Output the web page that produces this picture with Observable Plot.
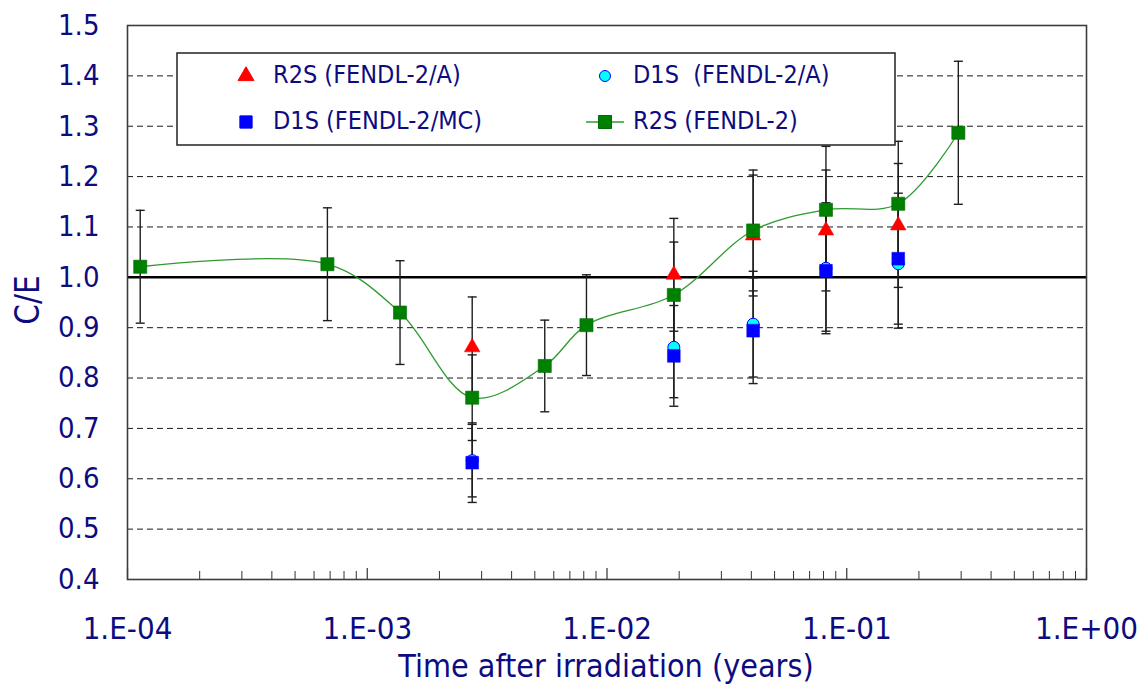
<!DOCTYPE html>
<html><head><meta charset="utf-8">
<script src="https://cdn.jsdelivr.net/npm/d3@7"></script>
<script src="https://cdn.jsdelivr.net/npm/@observablehq/plot@0.6"></script>
<style>
body{margin:0;background:#fff;}
#chart{position:relative;width:1142px;height:690px;}
</style></head><body><div id="chart"></div>
<script>
// ---------------- data ----------------
const r2sFendl2Time = [1.13e-4, 6.82e-4, 1.37e-3, 2.74e-3, 5.50e-3, 8.21e-3, 1.90e-2, 4.07e-2, 8.19e-2, 0.164, 0.292];
const r2sFendl2CE   = [1.021, 1.026, 0.930, 0.761, 0.824, 0.905, 0.965, 1.093, 1.134, 1.146, 1.287];
const r2sFendl2Err  = [0.112, 0.112, 0.103, 0.085, 0.091, 0.100, 0.105, 0.120, 0.126, 0.124, 0.142];

const otherTime = [2.74e-3, 1.90e-2, 4.07e-2, 8.19e-2, 0.164];
const r2sACE    = [0.861, 1.005, 1.083, 1.093, 1.103];
const r2sAErr   = [0.100, 0.112, 0.120, 0.120, 0.123];
const d1sMCCE   = [0.632, 0.844, 0.894, 1.013, 1.037];
const d1sMCErr  = [0.079, 0.100, 0.105, 0.120, 0.130];
const d1sACE    = [0.636, 0.861, 0.907, 1.018, 1.027];
const d1sAErr   = [0.072, 0.100, 0.105, 0.130, 0.128];

const seriesNames = ["R2S (FENDL-2/A)", "D1S  (FENDL-2/A)", "D1S (FENDL-2/MC)", "R2S (FENDL-2)"];

const xTicks = [1e-4, 1e-3, 1e-2, 1e-1, 1];
const xTickLabels = ["1.E-04", "1.E-03", "1.E-02", "1.E-01", "1.E+00"];
const yTicks = [0.4, 0.5, 0.6, 0.7, 0.8, 0.9, 1.0, 1.1, 1.2, 1.3, 1.4, 1.5];
const yTickLabels = ["0.4","0.5","0.6","0.7","0.8","0.9","1.0","1.1","1.2","1.3","1.4","1.5"];
const gridValues = [0.5, 0.6, 0.7, 0.8, 0.9, 1.1, 1.2, 1.3, 1.4];
const referenceLine = [1.0];
const xTitle = "Time after irradiation (years)";
const yTitle = "C/E";

// ---------------- build ----------------
const FONT = '"DejaVu Sans Condensed", "DejaVu Sans", sans-serif';
const NAVY = "#0c0c80";
const mk = (t, v, e) => t.map((x, i) => ({x, y: v[i], lo: v[i] - e[i], hi: v[i] + e[i]}));
const green = mk(r2sFendl2Time, r2sFendl2CE, r2sFendl2Err);
const red = mk(otherTime, r2sACE, r2sAErr);
const blue = mk(otherTime, d1sMCCE, d1sMCErr);
const cyan = mk(otherTime, d1sACE, d1sAErr);
const allErr = [...cyan, ...blue, ...red, ...green];
const xTickRows = xTicks.map((x, i) => ({x, label: xTickLabels[i]}));

const minorTicks = [];
for (let d = -4; d < 0; d++) for (let m = 2; m <= 9; m++) minorTicks.push(m * Math.pow(10, d));

const capSymbol = {draw(ctx, size) { const r = Math.sqrt(size / Math.PI); ctx.moveTo(-r, 0); ctx.lineTo(r, 0); }};
const blank = () => "";

const W = 1142, H = 690;
const plot = Plot.plot({
  width: W, height: H,
  marginLeft: 127, marginRight: 56, marginTop: 25, marginBottom: 111,
  style: {fontFamily: FONT, fontSize: "29px", color: NAVY, background: "#fff"},
  x: {type: "log", domain: [1e-4, 1], label: null},
  y: {domain: [0.4, 1.5], label: null},
  marks: [
    Plot.gridY(gridValues, {stroke: "#1a1a1a", strokeOpacity: 1, strokeDasharray: "6,4", strokeWidth: 1}),
    Plot.ruleY(referenceLine, {stroke: "#000", strokeWidth: 2.6}),
    Plot.axisX(minorTicks, {tickSize: -8, tickFormat: blank, stroke: "#333", strokeWidth: 1, label: null}),
    Plot.axisX(xTicks, {tickSize: -11, tickFormat: blank, stroke: "#333", strokeWidth: 1.2, label: null}),
    Plot.text(xTickRows, {x: "x", text: "label", frameAnchor: "bottom", dy: 50, lineAnchor: "middle",
      fill: NAVY, fontSize: 31}),
    Plot.axisY(yTicks, {tickSize: 0, tickPadding: 28, tickFormat: (d, i) => yTickLabels[i], fill: NAVY, label: null}),
    Plot.frame({stroke: "#3c3c3c", strokeWidth: 1.6}),
    Plot.ruleX(allErr, {x: "x", y1: "lo", y2: "hi", stroke: "#1e1e1e", strokeWidth: 1.4}),
    Plot.dot(allErr, {x: "x", y: "lo", symbol: capSymbol, r: 4.5, stroke: "#1e1e1e", strokeWidth: 1.4, fill: "none"}),
    Plot.dot(allErr, {x: "x", y: "hi", symbol: capSymbol, r: 4.5, stroke: "#1e1e1e", strokeWidth: 1.4, fill: "none"}),
    Plot.dot(cyan, {x: "x", y: "y", r: 6, fill: "#00ffff", stroke: "#0000ff", strokeWidth: 1}),
    Plot.dot(blue, {x: "x", y: "y", symbol: "square", r: 7.2, fill: "#0000ff", stroke: "#0000ff", strokeWidth: 0.5}),
    Plot.dot(red, {x: "x", y: "y", symbol: "triangle", r: 5.8, fill: "#ff0000", stroke: "#ff0000", strokeWidth: 0.5}),
    Plot.line(green, {x: "x", y: "y", curve: "catmull-rom", stroke: "#2f9a2f", strokeWidth: 1.3}),
    Plot.dot(green, {x: "x", y: "y", symbol: "square", r: 7.4, fill: "#008000", stroke: "#006a00", strokeWidth: 0.6})
  ]
});
document.getElementById("chart").appendChild(plot);

// axis titles
const svg = d3.select(plot);
svg.append("text").attr("x", 606).attr("y", 668).attr("text-anchor", "middle").attr("dominant-baseline", "middle")
  .attr("fill", NAVY).attr("font-size", 32).attr("font-family", FONT).text(xTitle);
svg.append("text").attr("transform", "translate(29,300) rotate(-90)").attr("text-anchor", "middle").attr("dominant-baseline", "middle")
  .attr("fill", NAVY).attr("font-size", 33).attr("font-family", FONT).text(yTitle);

// legend (inside plot)
const lg = svg.append("g");
lg.append("rect").attr("x", 177).attr("y", 53).attr("width", 718).attr("height", 92)
  .attr("fill", "#fff").attr("stroke", "#222").attr("stroke-width", 1.5);
const items = [
  {sym: "triangle", fill: "#ff0000", stroke: "#ff0000", cx: 246, cy: 76, tx: 273},
  {sym: "circle", fill: "#00ffff", stroke: "#0000ff", cx: 605, cy: 76, tx: 633},
  {sym: "square", fill: "#0000ff", stroke: "#0000ff", cx: 246, cy: 122, tx: 273},
  {sym: "squareLine", fill: "#008000", stroke: "#006a00", cx: 605, cy: 122, tx: 633}
];
items.forEach((it, i) => {
  if (it.sym === "squareLine") {
    lg.append("line").attr("x1", it.cx - 19).attr("x2", it.cx + 19).attr("y1", it.cy).attr("y2", it.cy)
      .attr("stroke", "#2f9a2f").attr("stroke-width", 1.3);
  }
  const type = it.sym === "triangle" ? d3.symbolTriangle : it.sym === "circle" ? d3.symbolCircle : d3.symbolSquare;
  const size = it.sym === "triangle" ? 110 : it.sym === "circle" ? 95 : it.sym === "square" ? 150 : 170;
  lg.append("path").attr("d", d3.symbol(type, size)()).attr("transform", `translate(${it.cx},${it.cy})`)
    .attr("fill", it.fill).attr("stroke", it.stroke).attr("stroke-width", 1);
  lg.append("text").attr("x", it.tx).attr("y", it.cy).attr("dominant-baseline", "middle").attr("text-anchor", "start")
    .attr("fill", NAVY).attr("font-size", 25).attr("font-family", FONT).style("white-space", "pre")
    .attr("xml:space", "preserve").text(seriesNames[i]);
});
</script></body></html>
